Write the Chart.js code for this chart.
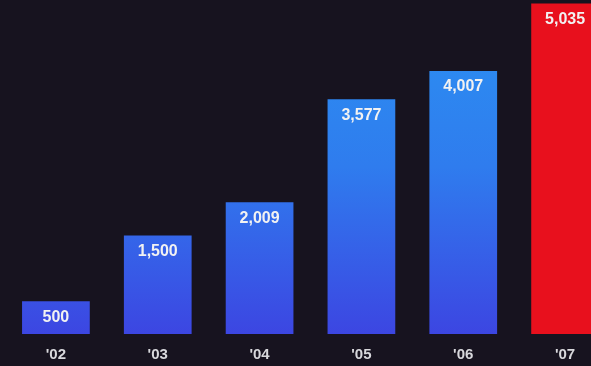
<!DOCTYPE html>
<html>
<head>
<meta charset="utf-8">
<script src="https://cdn.jsdelivr.net/npm/chart.js@4.4.0/dist/chart.umd.min.js"></script>
<style>
    html, body { margin: 0; padding: 0; overflow: hidden; background: #17131f; }
    #chart1 { display: block; }
</style>
</head>
<body>
<canvas id="chart1" width="616" height="378"></canvas>
<script>
const years = ["'02", "'03", "'04", "'05", "'06", "'07"];
const counts = [500, 1500, 2009, 3577, 4007, 5035];
const valueLabels = ["500", "1,500", "2,009", "3,577", "4,007", "5,035"];

// the last year is highlighted in red, the rest get the blue fade
function barColor(ctx) {
    if (ctx.dataIndex === counts.length - 1) return "#e8101d";
    const area = ctx.chart.chartArea;
    if (!area) return "#3070ea";
    const g = ctx.chart.ctx.createLinearGradient(0, area.top, 0, area.bottom);
    g.addColorStop(0, "#2b92f2");
    g.addColorStop(0.5, "#2f7cee");
    g.addColorStop(1, "#3c46e2");
    return g;
}

// numbers written inside the top of each bar
const valuePlugin = {
    id: "valueText",
    afterDatasetsDraw(chart) {
        const c = chart.ctx;
        const meta = chart.getDatasetMeta(0);
        c.save();
        c.fillStyle = "#f2f2f2";
        c.font = "bold 16px 'Liberation Sans', Arial, sans-serif";
        c.textAlign = "center";
        c.textBaseline = "middle";
        meta.data.forEach(function (bar, i) {
            c.fillText(valueLabels[i], bar.x, Math.max(bar.y, 3) + 16);
        });
        c.restore();
    }
};

const c1 = document.getElementById("chart1");
const chartObject1 = new Chart(c1, {
    type: "bar",
    data: {
        labels: years,
        datasets: [{
            data: counts,
            backgroundColor: barColor,
            borderWidth: 0,
            categoryPercentage: 1,
            barPercentage: 0.665
        }]
    },
    options: {
        responsive: false,
        animation: false,
        layout: { padding: { left: 5, right: 0, top: 0, bottom: 2 } },
        plugins: {
            legend: { display: false },
            tooltip: { enabled: false }
        },
        scales: {
            x: {
                grid: { display: false, drawTicks: false },
                border: { display: false },
                ticks: {
                    color: "#d8d8dc",
                    padding: 12,
                    font: { family: "'Liberation Sans', Arial, sans-serif", size: 15, weight: "bold" }
                }
            },
            y: {
                display: false,
                min: 0,
                max: 5090
            }
        }
    },
    plugins: [valuePlugin]
});
</script>
</body>
</html>
